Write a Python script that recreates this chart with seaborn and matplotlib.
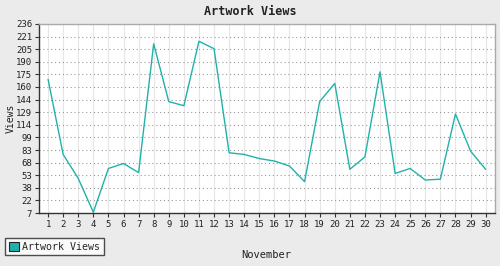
import numpy as np
import pandas as pd
import matplotlib
matplotlib.use("Agg")
import matplotlib.pyplot as plt
import seaborn as sns
from matplotlib.patches import Patch
from matplotlib.ticker import FixedLocator

days = list(range(1, 31))
views = [169, 78, 49, 8, 61, 67, 56, 212, 142, 137, 215, 206, 80, 78, 73, 70, 64, 45,
         142, 164, 60, 75, 178, 55, 61, 47, 48, 127, 82, 60]
y_ticks = np.linspace(7, 236, 16)
y_labels = [str(int(round(v))) for v in y_ticks]
series_name = "Artwork Views"
title = "Artwork Views"
x_label = "November"
y_label = "Views"

df = pd.DataFrame({"day": days, "views": views})

sns.set_style("white")
plt.rcParams["font.family"] = ["DejaVu Sans Mono"]

bg = "#ebebeb"
line_color = "#20b2aa"
fig = plt.figure(figsize=(5, 2.66), dpi=100, facecolor=bg)
ax = fig.add_axes([0.078, 0.199, 0.912, 0.711])
ax.set_facecolor("white")

sns.lineplot(data=df, x="day", y="views", ax=ax, color=line_color, linewidth=1.0)

ax.set_xlim(0.4, 30.62)
ax.set_ylim(7, 236)
ax.set_xticks(days)
ax.set_xticklabels([str(d) for d in days], fontsize=6.5)
ax.yaxis.set_major_locator(FixedLocator(y_ticks))
ax.set_yticklabels(y_labels, fontsize=6.5)
ax.tick_params(axis="both", direction="out", length=3, width=0.8, color="#333333", pad=2, labelcolor="#222222")
ax.tick_params(axis="x", bottom=True)
ax.tick_params(axis="y", left=True)

ax.grid(False)
for d in days:
    ax.axvline(d, color="#e6e6e6", lw=0.8, zorder=0)
for t in y_ticks[1:-1]:
    ax.axhline(t, color="#999999", lw=0.8, ls=(0, (1, 2.5)), zorder=0)

for side in ["top", "right"]:
    ax.spines[side].set_color("#aaaaaa")
    ax.spines[side].set_linewidth(1)
for side in ["left", "bottom"]:
    ax.spines[side].set_color("#333333")
    ax.spines[side].set_linewidth(1)

ax.set_xlabel("")
ax.set_ylabel("")
fig.text(0.5, 0.955, title, ha="center", va="center", fontsize=8.5, fontweight="bold", color="#222222")
fig.text(0.532, 0.04, x_label, ha="center", va="center", fontsize=7.5, color="#222222")
fig.text(0.022, 0.555, y_label, ha="center", va="center", rotation=90, fontsize=7, color="#222222")

handle = Patch(facecolor=line_color, edgecolor="#222222", linewidth=0.8, label=series_name)
leg = fig.legend(handles=[handle], loc="lower left", bbox_to_anchor=(0.01, 0.04),
                 frameon=True, fancybox=False, fontsize=7.2, handlelength=1.0, handleheight=1.0,
                 borderpad=0.35, handletextpad=0.4, borderaxespad=0)
leg.get_frame().set_edgecolor("#222222")
leg.get_frame().set_linewidth(1)
leg.get_frame().set_facecolor("white")

fig.savefig("out.png", dpi=100, facecolor=bg)
